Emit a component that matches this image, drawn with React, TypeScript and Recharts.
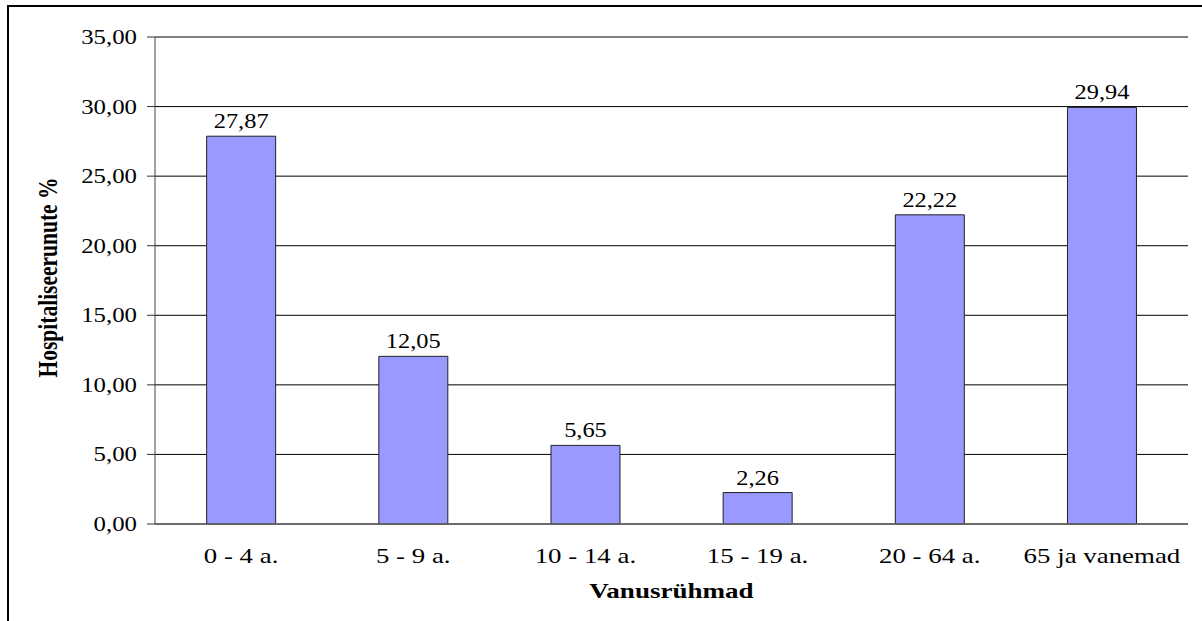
import React from 'react';
import { BarChart, Bar, XAxis, YAxis, CartesianGrid, LabelList } from 'recharts';

const categories = ['0 - 4 a.', '5 - 9 a.', '10 - 14 a.', '15 - 19 a.', '20 - 64 a.', '65 ja vanemad'];
const values = [27.87, 12.05, 5.65, 2.26, 22.22, 29.94];
const yTicks = [0, 5, 10, 15, 20, 25, 30, 35];
const boundaryTicks = [0, 1, 2, 3, 4, 5, 6];
const xTitle = 'Vanusrühmad';
const yTitle = 'Hospitaliseerunute %';

const data = categories.map((c, i) => ({ name: c, value: values[i] }));
const fmt = (v: any) => Number(v).toFixed(2).replace('.', ',');

const FONT = "'Liberation Serif', 'DejaVu Serif', serif";

const css = `
.chart-wrap text { font-family: ${FONT} !important; fill: #000; }
.chart-wrap .bar-label { font-size: 20px !important; transform: scaleX(1.22); transform-box: fill-box; transform-origin: center; }
.chart-wrap .x-title { font-size: 22px !important; font-weight: bold !important; transform: scaleX(1.23); transform-box: fill-box; transform-origin: center; }
`;

const XTick = (props: any) => {
  const { x, y, payload } = props;
  return (
    <g transform={`translate(${x},${y}) scale(1.28,1)`}>
      <text x={0} y={0} dy={15} textAnchor="middle" fontSize={21} fill="#000">
        {payload.value}
      </text>
    </g>
  );
};

const YTick = (props: any) => {
  const { x, y, payload } = props;
  return (
    <g transform={`translate(${x},${y}) scale(1.24,1)`}>
      <text x={0} y={0} dy={7} textAnchor="end" fontSize={20} fill="#000">
        {fmt(payload.value)}
      </text>
    </g>
  );
};

const YTitle = (props: any) => {
  const vb = props.viewBox || { x: 45, y: 37, width: 110, height: 487 };
  const cx = vb.x + 3;
  const cy = vb.y + vb.height / 2 - 3;
  return (
    <g transform={`translate(${cx},${cy}) scale(1.25,1)`}>
      <text transform="rotate(-90)" textAnchor="middle" dominantBaseline="central" fontSize={21.5} fontWeight="bold" fill="#000">
        {yTitle}
      </text>
    </g>
  );
};

export default function App() {
  return (
    <div className="chart-wrap" style={{ position: 'absolute', left: 0, top: 0, width: 1202, height: 621, overflow: 'hidden', background: '#fff' }}>
      <style>{css}</style>
      <div style={{ position: 'absolute', left: 7, top: 5, width: 1400, height: 800, border: '2px solid #000', boxSizing: 'border-box' }} />
      <div style={{ position: 'absolute', left: 0, top: 0 }}>
        <BarChart
          width={1202}
          height={621}
          data={data}
          margin={{ top: 37, right: 14, bottom: 57, left: 45 }}
          barCategoryGap="30%"
        >
          <CartesianGrid vertical={false} stroke="#000" strokeWidth={1} yAxisId="left" xAxisId="cat" />
          <XAxis
            xAxisId="edge"
            type="number"
            domain={[0, 6]}
            ticks={boundaryTicks}
            height={0}
            axisLine={false}
            tickLine={{ stroke: '#555' }}
            tickSize={8}
            tickFormatter={() => ''}
          />
          <XAxis
            xAxisId="cat"
            dataKey="name"
            height={40}
            axisLine={{ stroke: '#666', strokeWidth: 1.5 }}
            tickLine={false}
            tick={<XTick />}
            tickSize={6}
            tickMargin={18}
            interval={0}
            label={{ value: xTitle, position: 'bottom', offset: 18, className: 'x-title', fontSize: 22, fontWeight: 'bold' }}
          />
          <XAxis xAxisId="top" orientation="top" dataKey="name" height={0} axisLine={{ stroke: '#888' }} tickLine={false} tick={false} />
          <YAxis
            yAxisId="left"
            domain={[0, 35]}
            ticks={yTicks}
            width={110}
            axisLine={{ stroke: '#444' }}
            tickLine={{ stroke: '#333' }}
            tickSize={8}
            tickMargin={10}
            tick={<YTick />}
            label={{ content: YTitle }}
          />
          <YAxis yAxisId="right" orientation="right" domain={[0, 35]} width={0} axisLine={{ stroke: '#888' }} tickLine={false} tick={false} />
          <Bar dataKey="value" xAxisId="cat" yAxisId="left" fill="#9999FF" stroke="#222" strokeWidth={1} isAnimationActive={false}>
            <LabelList dataKey="value" position="top" offset={8} formatter={fmt} className="bar-label" fontSize={20} />
          </Bar>
        </BarChart>
      </div>
    </div>
  );
}
